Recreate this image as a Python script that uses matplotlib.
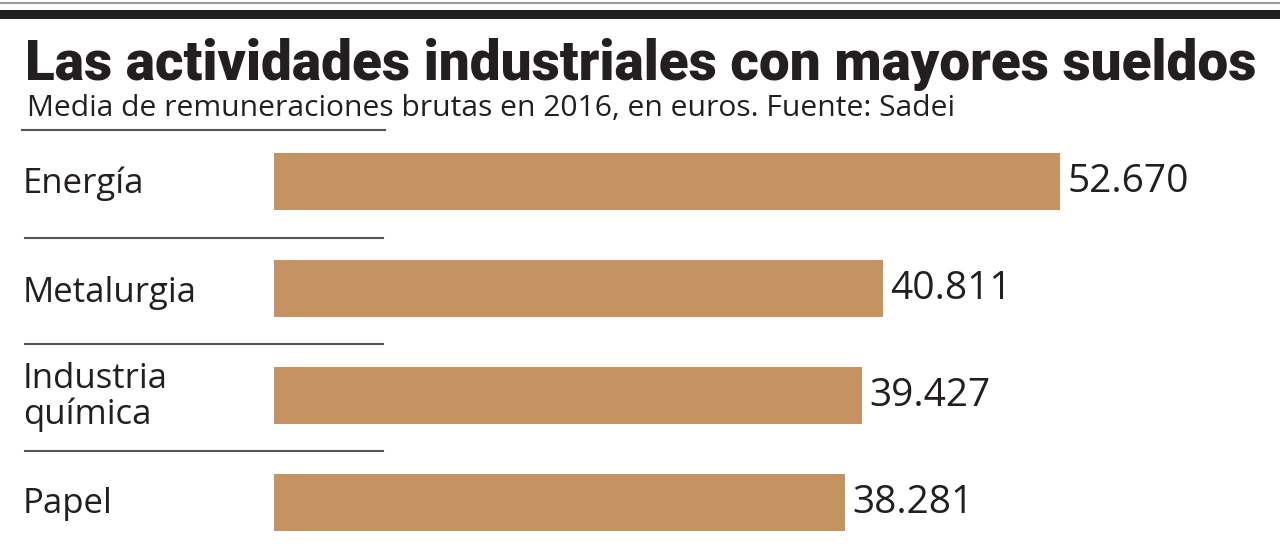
import matplotlib
matplotlib.use("Agg")
import matplotlib.pyplot as plt
from matplotlib import font_manager
from matplotlib.lines import Line2D

# data
categories = ["Energía", "Metalurgia", "Industria\nquímica", "Papel"]
values = [52670, 40811, 39427, 38281]
value_labels = ["52.670", "40.811", "39.427", "38.281"]

title = "Las actividades industriales con mayores sueldos"
subtitle = "Media de remuneraciones brutas en 2016, en euros. Fuente: Sadei"

BAR_COLOR = "#c59262"
TEXT_COLOR = "#231f20"
W, H = 1280, 548


def has_font(name):
    try:
        font_manager.findfont(name, fallback_to_default=False)
        return True
    except Exception:
        return False


title_font = "Liberation Sans Narrow" if has_font("Liberation Sans Narrow") else "Roboto"
body_font = "Open Sans"


def px(x, y):
    # pixel coords (top-left origin) -> figure fraction
    return x / W, 1 - y / H


fig = plt.figure(figsize=(W / 100, H / 100), dpi=100)
fig.patch.set_facecolor("white")

# top rules
fig.add_artist(Line2D([0, 1], [1 - 3 / H] * 2, color="#9a9a9a", lw=1.5))
fig.add_artist(Line2D([0, 1], [1 - 13.5 / H] * 2, color="#231f20", lw=6.5))

# title, shrunk to fit reference width
t = fig.text(*px(25, 80), title, fontsize=47, fontweight="black",
             family=title_font, color=TEXT_COLOR, va="baseline", ha="left")
fig.canvas.draw()
tw = t.get_window_extent().width
t.set_fontsize(47 * 1230 / tw)

fig.text(*px(27, 109), subtitle, fontsize=21.6, family=body_font,
         color=TEXT_COLOR, va="center", ha="left")
fig.add_artist(Line2D([22 / W, 385 / W], [1 - 130 / H] * 2, color="#555555", lw=1.5))

# bars
ax = fig.add_axes([274 / W, 0, 1 - 274 / W, 420 / H])
y = list(range(len(values)))
ax.barh(y, values, height=0.54, color=BAR_COLOR)
ax.set_xlim(0, (W - 274) / 0.014925)
ax.set_ylim(3.425, -0.5)
ax.axis("off")

for yi, v, lab in zip(y, values, value_labels):
    ax.annotate(lab, (v, yi), xytext=(5, 0), textcoords="offset points",
                va="center", ha="left", fontsize=28, family=body_font,
                color=TEXT_COLOR)

# category labels and separators
label_y = [184, 293, 397, 504]
for cat, ly in zip(categories, label_y):
    fig.text(*px(23, ly), cat, fontsize=25, family=body_font, color=TEXT_COLOR,
             va="center", ha="left", linespacing=1.05)

for sy in [238, 344, 451]:
    fig.add_artist(Line2D([25 / W, 383 / W], [1 - sy / H] * 2, color="#555555", lw=1.5))

fig.savefig("out.png", dpi=100, facecolor="white")
